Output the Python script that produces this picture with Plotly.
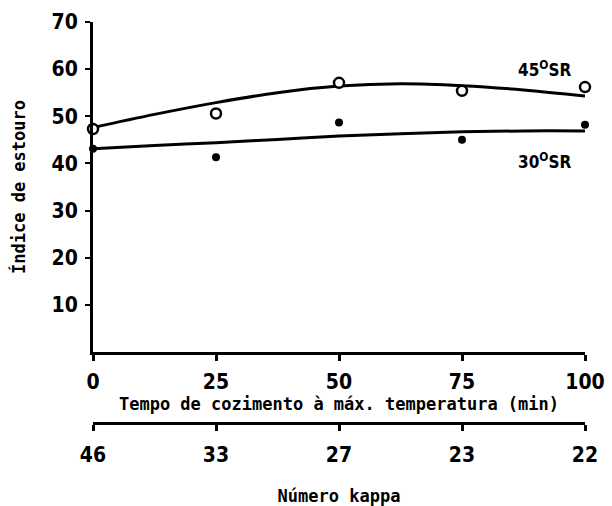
import plotly.graph_objects as go

# Data
tempo = [0, 25, 50, 75, 100]              # Tempo de cozimento (min)
kappa_labels = ["46", "33", "27", "23", "22"]  # Número kappa
sr45_pts = [47.3, 50.6, 57.1, 55.4, 56.2]   # open circles (45°SR)
sr30_pts = [43.1, 41.3, 48.7, 45.0, 48.2]   # filled dots (30°SR)

# fitted curves as drawn
curve_x = [0, 12.5, 25, 37.5, 50, 62.5, 75, 87.5, 100]
sr45_curve = [47.6, 50.4, 52.9, 55.0, 56.4, 56.9, 56.5, 55.6, 54.3]
sr30_curve = [43.1, 43.8, 44.4, 45.1, 45.8, 46.3, 46.7, 46.9, 46.9]

y_ticks = [10, 20, 30, 40, 50, 60, 70]

FONT_NUM = "DejaVu Sans Condensed, DejaVu Sans"
FONT_TXT = "DejaVu Sans Mono"

fig = go.Figure()
fig.add_trace(go.Scatter(x=curve_x, y=sr45_curve, mode="lines", line=dict(color="black", width=3, shape="spline"),
                         showlegend=False, hoverinfo="skip"))
fig.add_trace(go.Scatter(x=curve_x, y=sr30_curve, mode="lines", line=dict(color="black", width=3, shape="spline"),
                         showlegend=False, hoverinfo="skip"))
fig.add_trace(go.Scatter(x=tempo, y=sr45_pts, mode="markers", name="45°SR",
                         marker=dict(symbol="circle", size=10, color="white", line=dict(color="black", width=2.5)),
                         cliponaxis=False, showlegend=False))
fig.add_trace(go.Scatter(x=tempo, y=sr30_pts, mode="markers", name="30°SR",
                         marker=dict(symbol="circle", size=8, color="black"),
                         cliponaxis=False, showlegend=False))
# invisible trace to activate the second x axis
fig.add_trace(go.Scatter(x=tempo, y=[0]*5, xaxis="x2", mode="markers", marker=dict(opacity=0),
                         showlegend=False, hoverinfo="skip"))

fig.add_annotation(x=100, y=57.2, xref="x", yref="y", text="45<sup>O</sup>SR", showarrow=False,
                   xanchor="right", yanchor="bottom", xshift=-12,
                   font=dict(family=FONT_NUM, size=17, color="black", weight="bold"))
fig.add_annotation(x=100, y=40.5, xref="x", yref="y", text="30<sup>O</sup>SR", showarrow=False,
                   xanchor="right", yanchor="middle", xshift=-12,
                   font=dict(family=FONT_NUM, size=17, color="black", weight="bold"))

H_top, H_bot = 22, 423
y_axis_bottom = 352
dom0 = (H_bot - y_axis_bottom) / (H_bot - H_top)

fig.update_layout(
    width=612, height=506,
    margin=dict(l=93, r=27, t=H_top, b=506 - H_bot),
    paper_bgcolor="white", plot_bgcolor="white",
    font=dict(family=FONT_NUM, color="black"),
    xaxis=dict(range=[0, 100], tickvals=tempo, ticktext=[str(t) for t in tempo],
               showgrid=False, zeroline=False, showline=True, linecolor="black", linewidth=3,
               ticks="outside", ticklen=6, tickwidth=3, tickcolor="black",
               ticklabelstandoff=3, anchor="y", automargin=False,
               tickfont=dict(family=FONT_NUM, size=21, weight="bold"),
               title=dict(text="Tempo de cozimento à máx. temperatura (min)", standoff=2,
                          font=dict(family=FONT_TXT, size=17, weight="bold"))),
    xaxis2=dict(range=[0, 100], tickvals=tempo, ticktext=kappa_labels, overlaying="x",
                anchor="free", position=0, side="bottom", automargin=False,
                showgrid=False, zeroline=False, showline=True, linecolor="black", linewidth=3,
                ticks="outside", ticklen=6, tickwidth=3, tickcolor="black",
                ticklabelstandoff=6,
                tickfont=dict(family=FONT_NUM, size=21, weight="bold"),
                title=dict(text="Número kappa", standoff=26,
                           font=dict(family=FONT_TXT, size=17, weight="bold"))),
    yaxis=dict(range=[0, 70], domain=[dom0, 1], tickvals=y_ticks, ticktext=[str(v) for v in y_ticks],
               showgrid=False, zeroline=False, showline=True, linecolor="black", linewidth=3,
               ticks="outside", ticklen=5, tickwidth=2, tickcolor="black",
               ticklabelstandoff=3, automargin=False,
               tickfont=dict(family=FONT_NUM, size=21, weight="bold"),
               title=dict(text="Índice de estouro", standoff=22,
                          font=dict(family=FONT_TXT, size=17, weight="bold"))),
)

fig.write_html("out.html", config={"displayModeBar": False},
               post_script="document.body.style.margin='0';")
